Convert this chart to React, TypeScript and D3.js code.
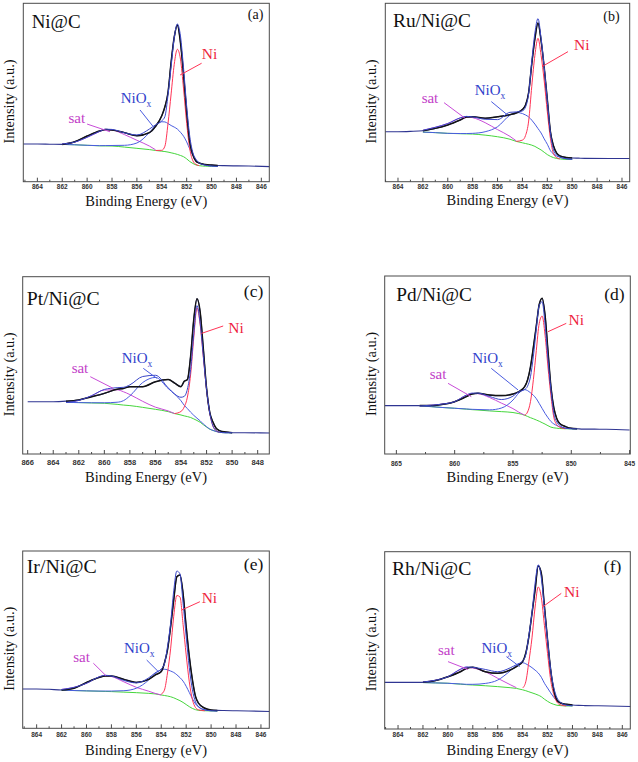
import React from 'react';
import * as d3 from 'd3';

// Binding energy grid (eV) shared by all panels
const energyGrid = [866, 865, 864, 863, 862, 861, 860, 859, 858.5, 858, 857, 856, 855, 854.5, 854, 853.75, 853.5, 853.25, 853, 852.75, 852.5, 852.25, 852, 851.75, 851.5, 851.25, 851, 850.5, 850, 849.5, 849, 847, 845];
const N = null;

// Tick labels
const ticksStd = [864, 862, 860, 858, 856, 854, 852, 850, 848, 846];
const ticksC = [866, 864, 862, 860, 858, 856, 854, 852, 850, 848];
const ticksD = [865, 860, 855, 850, 845];

// ---- (a) Ni@C ----
const rawA = [21.1, 21.1, 21.1, 21.0, 20.9, 22.4, 25.6, 28.4, 29.2, 29.0, 27.5, 25.8, 27.5, 31, 37, 42, 50, 67, 81, 87.9, 78, 60, 39, 22, 15, 11.5, 10.5, 9.6, 9.3, 9.1, 9.0, 8.8, 8.4];
const bgA = [N, N, N, N, 20.9, 20.7, 20.4, 20.1, 20.05, 20.0, 19.4, 18.7, 18.0, 17.5, 17.1, 16.9, 16.6, 16.2, 15.8, 15.3, 14.7, 14.0, 12.8, 11.3, 10.2, 9.4, 9.0, 8.7, 8.6, 8.6, N, N, N];
const satA = [N, N, N, N, 0.3, 1.5, 4.5, 8, 9.2, 9, 7, 4.5, 2, 0.4, N, N, N, N, N, N, N, N, N, N, N, N, N, N, N, N, N, N, N];
const nioA = [N, N, N, N, 0, 0, 0, 0.1, 0.2, 0.3, 1, 3, 9.5, 14, 16.5, 16.6, 16, 15.3, 14.8, 14.2, 13, 11.5, 9.5, 7, 4.5, 2.8, 1.6, 0.6, 0.2, 0, N, N, N];
const niA = [N, N, N, N, N, N, N, N, N, N, N, N, N, 0, 0.5, 3, 16, 33, 50, 58.9, 54, 38, 20, 7, 1.5, 0.3, 0, N, N, N, N, N, N];

// ---- (b) Ru/Ni@C ----
const rawB = [28.0, 28.0, 28.0, 28.2, 28.6, 29.9, 31.8, 34.6, 36.2, 36.4, 35.5, 36.4, 37.6, 38.5, 40.5, 43, 50, 66, 80, 89, 79, 64, 46, 28, 20, 16, 14.5, 13.6, 13.3, 13.2, 13.1, 13.0, 13.0];
const bgB = [N, N, N, N, 27.8, 27.5, 27.1, 26.9, 26.8, 26.7, 26.1, 25.2, 23.8, 22.6, 21.8, 21.4, 21.0, 20.5, 19.8, 18.8, 17.8, 16.5, 15.2, 14.2, 13.5, 13.0, 12.8, 12.5, 12.5, N, N, N, N];
const satB = [N, N, N, N, 1, 3, 5.5, 8.8, 9.6, 9.2, 7, 4, 1.6, 0.3, N, N, N, N, N, N, N, N, N, N, N, N, N, N, N, N, N, N, N];
const nioB = [N, N, N, N, 0, 0, 0, 0.1, 0.2, 0.4, 1.9, 5.6, 13.5, 16.2, 16.4, 16, 15.3, 14, 12.5, 11, 9.5, 7.5, 5.8, 3.2, 2, 1.4, 1.0, 0.4, 0.1, N, N, N, N];
const niB = [N, N, N, N, N, N, N, N, N, N, N, N, N, 0, 1.5, 4.5, 13, 33, 51, 61.6, 53, 40, 24, 10, 2.2, 0.5, 0, N, N, N, N, N, N];

// ---- (c) Pt/Ni@C ----
const rawC = [29.5, 29.5, 29.5, 29.8, 30.5, 32.3, 34.2, 36.5, 37, 38, 38, 40.8, 42, 40, 38, 41, 42, 55, 76, 87.5, 80, 59, 37, 23.5, 18, 14.5, 13.2, 12.4, 12, 12, 12, 11.8, 11.7];
const bgC = [N, N, N, 29.1, 29.0, 28.8, 28.6, 28.0, 27.6, 27.3, 26.3, 25.2, 23.9, 22.8, 22.0, 21.5, 21.1, 20.6, 19.8, 18.9, 17.9, 16.5, 15.2, 14.0, 13.3, 12.7, 12.3, 12.0, 12.0, N, N, N, N];
const satC = [N, N, N, 0, 1.2, 4, 7.5, 8.2, 7.5, 6.2, 3.4, 1.2, 0.4, 0, N, N, N, N, N, N, N, N, N, N, N, N, N, N, N, N, N, N, N];
const nioC = [N, N, N, 0, 0, 0.1, 0.3, 1.2, 2.5, 5.5, 14, 18, 13, 11, 8, 6, 4.5, 3, 2, 1.3, 0.8, 0.4, 0.2, 0.1, 0, 0, 0, 0, 0, N, N, N, N];
const niC = [N, N, N, N, N, N, N, N, N, N, N, N, N, 0, 2, 5, 11, 24, 46, 63.5, 55, 38, 21, 9, 2.5, 0.5, 0, N, N, N, N, N, N];

// ---- (d) Pd/Ni@C ----
const rawD = [27.2, 27.2, 27.2, 27.2, 27.2, 27.9, 29.4, 32.2, 33.7, 34.1, 33.1, 32.8, 33.7, 35, 37.8, 41.6, 49, 60, 72, 84, 87.5, 78, 58, 38, 26, 20, 17.2, 15.4, 14.4, 14.2, 14, 13.9, 13.5];
const bgD = [N, N, N, 27, 26.6, 26.1, 25.7, 25.2, 24.9, 24.7, 24.2, 23.8, 23.3, 22.7, 21.8, 21.1, 20.4, 19.8, 19.1, 18.4, 17.6, 16.8, 15.9, 15.1, 14.7, 14.5, 14.3, 14.2, 14.1, 14.1, N, N, N];
const satD = [N, N, N, 0, 0.8, 2, 3.7, 7.8, 9.1, 9.2, 7.5, 4.8, 2.2, 0.8, 0, N, N, N, N, N, N, N, N, N, N, N, N, N, N, N, N, N, N];
const nioD = [N, N, N, 0, 0, 0, 0, 0.1, 0.2, 0.3, 0.6, 2, 7, 11.5, 14.4, 14.5, 14, 13.2, 12, 10, 8, 6, 4.5, 3.2, 2.2, 1.5, 1, 0.3, 0.1, 0, N, N, N];
const niD = [N, N, N, N, N, N, N, N, N, N, N, N, N, N, 0, 2.5, 9, 22, 39, 55, 59.9, 50, 33, 18, 6, 2, 0.8, 0, N, N, N, N, N];

// ---- (e) Ir/Ni@C ----
const rawE = [22.2, 22.2, 22.2, 22.0, 21.6, 22.6, 25.8, 28.6, 29.5, 29.5, 27.6, 25.9, 27.6, 30, 32, 36.7, 44.2, 57.3, 72.4, 85.5, 86.5, 76, 57.3, 40.4, 27.3, 17.9, 14.1, 11.3, 10.3, 10.1, 10, 9.8, 9.4];
const bgE = [N, N, N, N, 21.5, 21.3, 21.1, 20.9, 20.8, 20.7, 20.4, 20.1, 19.7, 19.4, 18.8, 18.5, 18.2, 17.8, 17.2, 16.4, 15.6, 14.6, 13.4, 12.2, 11.2, 10.5, 10.1, 9.9, 9.8, 9.8, N, N, N];
const satE = [N, N, N, N, 0.4, 1.8, 4.3, 8, 8.9, 8.5, 5.8, 3, 1.2, 0.3, 0, N, N, N, N, N, N, N, N, N, N, N, N, N, N, N, N, N, N];
const nioE = [N, N, N, N, 0, 0, 0, 0.1, 0.2, 0.3, 0.8, 2.5, 7.6, 11.5, 14.2, 14.8, 14.8, 14.5, 14.3, 13.8, 13, 12, 10.3, 8, 5.5, 3.2, 1.8, 0.5, 0.1, 0, N, N, N];
const niE = [N, N, N, N, N, N, N, N, N, N, N, N, N, N, 0.5, 3, 13, 27, 46, 58.5, 58.5, 44, 28, 14, 5, 1.2, 0.3, 0, N, N, N, N, N];

// ---- (f) Rh/Ni@C ----
const rawF = [26.3, 26.3, 26.3, 26.3, 26.3, 27.3, 29.5, 32.3, 34.2, 34.8, 32.3, 31.4, 33.3, 35.2, 38, 42.7, 52.1, 65.2, 78.4, 92, 87.8, 69, 50.2, 33.3, 22, 16.4, 14.8, 13.9, 13.5, 13.3, 13.2, 13, 12.6];
const bgF = [N, N, N, N, 26.2, 26.0, 25.8, 25.3, 25.0, 24.8, 24.4, 23.9, 23.3, 22.9, 22.1, 21.6, 21.0, 20.4, 19.8, 19.1, 18.2, 16.8, 15.6, 14.6, 13.9, 13.4, 13.2, 13.0, 13.0, N, N, N, N];
const satF = [N, N, N, N, 0.3, 1.5, 3.7, 8.3, 9.8, 9.6, 7.9, 4.7, 1.7, 0.4, N, N, N, N, N, N, N, N, N, N, N, N, N, N, N, N, N, N, N];
const nioF = [N, N, N, N, 0, 0, 0, 0.1, 0.2, 0.4, 1.3, 3.7, 9.5, 13, 15.3, 15.2, 14.8, 14.2, 13.4, 12.5, 11, 9, 7.5, 5.8, 4, 2.5, 1.6, 0.5, 0.1, N, N, N, N];
const niF = [N, N, N, N, N, N, N, N, N, N, N, N, N, N, 1, 5, 17, 31, 49, 61, 56, 41.5, 27, 13, 5.5, 1.8, 0.5, 0, N, N, N, N, N];

const sampleNames = ['Ni@C', 'Ru/Ni@C', 'Pt/Ni@C', 'Pd/Ni@C', 'Ir/Ni@C', 'Rh/Ni@C'];
const panelLabels = ['(a)', '(b)', '(c)', '(d)', '(e)', '(f)'];

const SERIF = "'Liberation Serif', 'Times New Roman', Times, serif";
const SANS = "'Liberation Sans', Arial, sans-serif";

const COL = {
  rawNavy: '#2f3592',
  rawBlack: '#141414',
  env: '#3a46c8',
  bg: '#45d63c',
  sat: '#c84cd8',
  nio: '#4a5ce0',
  ni: '#ff3456',
  niText: '#ee1f3f',
  nioText: '#3142cc',
  satText: '#c23ec8',
  frame: '#4a4a4a',
};

type Ann = { ni: number[]; niL: number[]; nio: number[]; nioL: number[]; sat: number[]; satL: number[] };

const panels = [
  {
    id: 'a', raw: rawA, bg: bgA, sat: satA, nio: nioA, ni: niA, ticks: ticksStd, step: 2,
    box: { l: 23.3, r: 269.3, t: 3.3, b: 181.7 }, dom: [865.13, 845.36],
    nameDx: 8.4, nameDy: 25, nameLen: 49, labDx: 6, labDy: 16, labSize: 14, tickDy: 7.5, tickSize: 6.5, titleDy: 24.3,
    ann: { ni: [850.79, 68.6], niL: [850.8, 66.4, 852.53, 59.8], nio: [857.3, 43.9], nioL: [855.75, 40.2, 854.68, 30.8], sat: [861.5, 33.1], satL: [860.0, 32.3, 858.16, 28.0] } as Ann,
  },
  {
    id: 'b', raw: rawB, bg: bgB, sat: satB, nio: nioB, ni: niB, ticks: ticksStd, step: 2,
    box: { l: 385.3, r: 629.7, t: 3.3, b: 181.7 }, dom: [865.02, 845.38],
    nameDx: 7.7, nameDy: 23.4, nameLen: 78, labDx: 10, labDy: 17.4, labSize: 14, tickDy: 7.5, tickSize: 6.5, titleDy: 23.3,
    ann: { ni: [849.86, 73.8], niL: [850.34, 72.9, 852.43, 64.5], nio: [857.84, 48.6], nioL: [856.5, 44.9, 855.2, 37.4], sat: [862.1, 44.3], satL: [860.3, 44.3, 858.6, 35.5] } as Ann,
  },
  {
    id: 'c', raw: rawC, bg: bgC, sat: satC, nio: nioC, ni: niC, ticks: ticksC, step: 2,
    box: { l: 22.7, r: 269.3, t: 276.7, b: 454 }, dom: [866.39, 847.09],
    nameDx: 4, nameDy: 28.3, nameLen: 73, labDx: 6, labDy: 20, labSize: 17.5, tickDy: 11, tickSize: 7.5, titleDy: 27.5,
    ann: { ni: [850.3, 68.4], niL: [850.7, 72.2, 852.4, 68.0], nio: [858.64, 51.1], nioL: [856.95, 48.3, 855.9, 42.7], sat: [862.56, 45.9], satL: [861.1, 43.6, 859.3, 37] } as Ann,
  },
  {
    id: 'd', raw: rawD, bg: bgD, sat: satD, nio: nioD, ni: niD, ticks: ticksD, step: 5,
    box: { l: 384.7, r: 630.3, t: 276, b: 454 }, dom: [866.0, 844.94],
    nameDx: 11.6, nameDy: 24.7, nameLen: 75.7, labDx: 5.6, labDy: 24, labSize: 17.5, tickDy: 12, tickSize: 6.5, titleDy: 27.5,
    ann: { ni: [850.23, 72.5], niL: [850.43, 73.4, 852, 68.7], nio: [858.5, 50.9], nioL: [856.86, 48.1, 854.57, 36], sat: [862.14, 41.9], satL: [860.57, 39.7, 858.57, 32.2] } as Ann,
  },
  {
    id: 'e', raw: rawE, bg: bgE, sat: satE, nio: nioE, ni: niE, ticks: ticksStd, step: 2,
    box: { l: 22.7, r: 269.3, t: 551, b: 728.3 }, dom: [865.12, 845.33],
    nameDx: 4, nameDy: 22.3, nameLen: 70, labDx: 6, labDy: 19, labSize: 17.5, tickDy: 8.4, tickSize: 6.5, titleDy: 26.3,
    ann: { ni: [850.76, 70.9], niL: [850.9, 71.4, 852.37, 66.7], nio: [857.0, 42.3], nioL: [855.17, 38.5, 854.24, 32], sat: [861.06, 37.6], satL: [859.45, 36.7, 858.44, 29.7] } as Ann,
  },
  {
    id: 'f', raw: rawF, bg: bgF, sat: satF, nio: nioF, ni: niF, ticks: ticksStd, step: 2,
    box: { l: 384.7, r: 630.3, t: 551.7, b: 729 }, dom: [865.07, 845.36],
    nameDx: 7.3, nameDy: 23.3, nameLen: 79.3, labDx: 9, labDy: 20, labSize: 17.5, tickDy: 8.3, tickSize: 6.5, titleDy: 25.6,
    ann: { ni: [850.68, 74.6], niL: [850.9, 76.5, 852.37, 69], nio: [857.31, 43], nioL: [855.3, 40.8, 854.24, 35.2], sat: [860.8, 41.7], satL: [859.99, 38, 858.38, 33.6] } as Ann,
  },
];

type Pt = [number, number | null];

function Panel({ p, idx }: { p: any; idx: number }) {
  const { l, r, t, b } = p.box;
  const x = d3.scaleLinear().domain(p.dom).range([l, r]);
  const y = d3.scaleLinear().domain([0, 100]).range([b, t]);
  const line = d3
    .line<Pt>()
    .defined((d) => d[1] != null)
    .x((d) => x(d[0]))
    .y((d) => y(d[1] as number))
    .curve(d3.curveMonotoneX);

  const rawAll: Pt[] = energyGrid.map((e, i) => [e, p.raw[i]]);
  const rawFit: Pt[] = energyGrid.map((e, i) => [e, p.bg[i] != null ? p.raw[i] : null]);
  const bgPts: Pt[] = energyGrid.map((e, i) => [e, p.bg[i]]);
  const comp = (arr: (number | null)[]): Pt[] =>
    energyGrid.map((e, i) => [e, p.bg[i] != null && arr[i] != null ? (p.bg[i] as number) + (arr[i] as number) : null]);
  const env: Pt[] = energyGrid.map((e, i) => [
    e,
    p.bg[i] != null ? p.bg[i] + (p.sat[i] ?? 0) + (p.nio[i] ?? 0) + (p.ni[i] ?? 0) : null,
  ]);

  const [d0, d1] = p.dom;
  const lo = Math.min(d0, d1), hi = Math.max(d0, d1);
  const majors: number[] = p.ticks.filter((v: number) => v >= lo && v <= hi);
  const minorsSet = new Set<number>();
  p.ticks.forEach((v: number) => {
    [v - p.step / 2, v + p.step / 2].forEach((m) => {
      if (m >= lo && m <= hi && !p.ticks.includes(m)) minorsSet.add(m);
    });
  });
  const minors = Array.from(minorsSet);

  const clipId = `clip-${p.id}`;
  const a: Ann = p.ann;
  const cx = (l + r) / 2;
  const cy = (t + b) / 2 + 9;

  return (
    <g>
      <defs>
        <clipPath id={clipId}>
          <rect x={l} y={t} width={r - l} height={b - t} />
        </clipPath>
      </defs>
      <g clipPath={`url(#${clipId})`} fill="none" strokeLinejoin="round">
        <path d={line(rawAll) || ''} stroke={COL.rawNavy} strokeWidth={1.1} />
        <path d={line(bgPts) || ''} stroke={COL.bg} strokeWidth={1} />
        <path d={line(comp(p.sat)) || ''} stroke={COL.sat} strokeWidth={1} />
        <path d={line(comp(p.nio)) || ''} stroke={COL.nio} strokeWidth={1} />
        <path d={line(comp(p.ni)) || ''} stroke={COL.ni} strokeWidth={1} />
        <path d={line(rawFit) || ''} stroke={COL.rawBlack} strokeWidth={1.5} />
        <path d={line(env) || ''} stroke={COL.env} strokeWidth={1} />
      </g>
      <rect x={l} y={t} width={r - l} height={b - t} fill="none" stroke={COL.frame} strokeWidth={1} />
      {majors.map((v) => (
        <line key={'M' + v} x1={x(v)} x2={x(v)} y1={b} y2={b - 4} stroke={COL.frame} strokeWidth={1} />
      ))}
      {minors.map((v) => (
        <line key={'m' + v} x1={x(v)} x2={x(v)} y1={b} y2={b - 2} stroke={COL.frame} strokeWidth={1} />
      ))}
      {majors.map((v) => (
        <text key={'L' + v} x={x(v)} y={b + p.tickDy} fontFamily={SANS} fontSize={p.tickSize} fontWeight="bold" fill="#333" textAnchor="middle">
          {v}
        </text>
      ))}
      <text x={cx} y={b + p.titleDy} fontFamily={SERIF} fontSize={14.5} fill="#111" textAnchor="middle" textLength={122} lengthAdjust="spacingAndGlyphs">
        Binding Energy (eV)
      </text>
      <text transform={`translate(${l - 9},${cy}) rotate(-90)`} fontFamily={SERIF} fontSize={14.5} fill="#111" textAnchor="middle" textLength={84} lengthAdjust="spacingAndGlyphs">
        Intensity (a.u.)
      </text>
      <text x={l + p.nameDx} y={t + p.nameDy} fontFamily={SERIF} fontSize={19.5} fill="#111" textLength={p.nameLen} lengthAdjust="spacingAndGlyphs">
        {sampleNames[idx]}
      </text>
      <text x={r - p.labDx} y={t + p.labDy} fontFamily={SERIF} fontSize={p.labSize} fill="#111" textAnchor="end">
        {panelLabels[idx]}
      </text>
      {/* annotations */}
      <line x1={x(a.niL[0])} y1={y(a.niL[1])} x2={x(a.niL[2])} y2={y(a.niL[3])} stroke={COL.ni} strokeWidth={1} />
      <text x={x(a.ni[0])} y={y(a.ni[1])} fontFamily={SERIF} fontSize={15.5} fill={COL.niText}>Ni</text>
      <line x1={x(a.nioL[0])} y1={y(a.nioL[1])} x2={x(a.nioL[2])} y2={y(a.nioL[3])} stroke={COL.nio} strokeWidth={1} />
      <text x={x(a.nio[0])} y={y(a.nio[1])} fontFamily={SERIF} fontSize={15} fill={COL.nioText}>
        NiO<tspan fontSize={9.5} dy={4}>x</tspan>
      </text>
      <line x1={x(a.satL[0])} y1={y(a.satL[1])} x2={x(a.satL[2])} y2={y(a.satL[3])} stroke={COL.sat} strokeWidth={1} />
      <text x={x(a.sat[0])} y={y(a.sat[1])} fontFamily={SERIF} fontSize={15} fill={COL.satText}>sat</text>
    </g>
  );
}

export default function App() {
  return (
    <svg
      width={638}
      height={762}
      viewBox="0 0 638 762"
      style={{ position: 'absolute', left: 0, top: 0, background: '#fff' }}
    >
      <rect x={0} y={0} width={638} height={762} fill="#fff" />
      {panels.map((p, i) => (
        <Panel key={p.id} p={p} idx={i} />
      ))}
    </svg>
  );
}
